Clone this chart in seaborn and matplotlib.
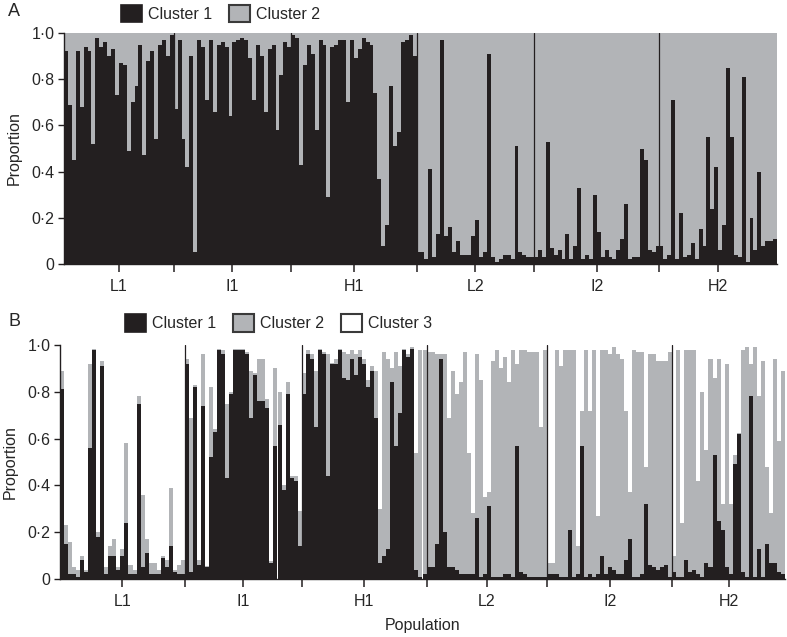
import numpy as np
import pandas as pd
import matplotlib
matplotlib.use("Agg")
import matplotlib.pyplot as plt
from matplotlib.patches import Patch
import seaborn as sns

# ---------------- data ----------------
POPS = ["L1", "I1", "H1", "L2", "I2", "H2"]

# Panel A (K = 2): proportion of Cluster 1 per individual (Cluster 2 = rest)
A_L1 = [0.92, 0.69, 0.45, 0.92, 0.68, 0.94, 0.92, 0.52, 0.98, 0.94, 0.96, 0.90, 0.93, 0.73,
        0.87, 0.86, 0.49, 0.70, 0.77, 0.95, 0.47, 0.88, 0.92, 0.54, 0.95, 0.97, 0.90, 0.99]
A_I1 = [0.67, 0.97, 0.54, 0.42, 0.90, 0.05, 0.97, 0.94, 0.71, 0.97, 0.66, 0.95, 0.96, 0.94, 0.64,
        0.96, 0.97, 0.98, 0.97, 0.89, 0.71, 0.95, 0.90, 0.66, 0.93, 0.95, 0.58, 0.82, 0.96, 0.94]
A_H1 = [0.99, 0.98, 0.43, 0.86, 0.95, 0.91, 0.58, 0.97, 0.95, 0.29, 0.94, 0.95, 0.97, 0.97, 0.70, 0.97,
        0.89, 0.93, 0.98, 0.96, 0.95, 0.74, 0.37, 0.08, 0.17, 0.77, 0.51, 0.57, 0.96, 0.97, 0.99, 0.90]
A_L2 = [0.05, 0.05, 0.02, 0.41, 0.03, 0.13, 0.97, 0.12, 0.16, 0.05, 0.10, 0.04, 0.04, 0.04, 0.12,
        0.19, 0.03, 0.05, 0.91, 0.03, 0.01, 0.02, 0.04, 0.04, 0.02, 0.51, 0.05, 0.04, 0.03, 0.03]
A_I2 = [0.03, 0.06, 0.03, 0.53, 0.07, 0.04, 0.06, 0.02, 0.13, 0.02, 0.08, 0.33, 0.02, 0.04, 0.02, 0.30,
        0.14, 0.03, 0.06, 0.03, 0.02, 0.06, 0.11, 0.26, 0.02, 0.03, 0.03, 0.50, 0.45, 0.06, 0.05, 0.08]
A_H2 = [0.08, 0.02, 0.04, 0.71, 0.02, 0.22, 0.03, 0.04, 0.09, 0.02, 0.15, 0.08, 0.55, 0.24, 0.42,
        0.06, 0.17, 0.85, 0.55, 0.04, 0.03, 0.81, 0.01, 0.20, 0.06, 0.40, 0.08, 0.10, 0.10, 0.11]

# Panel B (K = 3): proportions of Cluster 1 and Cluster 2 (Cluster 3 = rest)
B1_L1 = [0.81, 0.15, 0.02, 0.02, 0.01, 0.08, 0.03, 0.56, 0.98, 0.18, 0.91, 0.02, 0.10, 0.10, 0.04, 0.10,
         0.24, 0.02, 0.02, 0.75, 0.05, 0.11, 0.02, 0.02, 0.02, 0.09, 0.05, 0.14, 0.03, 0.02, 0.02]
B2_L1 = [0.08, 0.08, 0.14, 0.03, 0.03, 0.02, 0.01, 0.36, 0.005, 0.02, 0.02, 0.03, 0.04, 0.07, 0.01, 0.03,
         0.34, 0.04, 0.02, 0.03, 0.31, 0.06, 0.05, 0.05, 0.02, 0.01, 0.03, 0.25, 0.01, 0.04, 0.06]
B1_I1 = [0.92, 0.03, 0.82, 0.06, 0.74, 0.05, 0.52, 0.63, 0.98, 0.96, 0.43, 0.79, 0.98, 0.98, 0.98,
         0.96, 0.69, 0.87, 0.76, 0.76, 0.73, 0.07, 0.57, 0.66, 0.38, 0.79, 0.43, 0.42, 0.14]
B2_I1 = [0.02, 0.66, 0.01, 0.02, 0.22, 0.005, 0.30, 0.01, 0.005, 0.02, 0.32, 0.01, 0.005, 0.005, 0.005,
         0.01, 0.20, 0.01, 0.18, 0.18, 0.04, 0.005, 0.33, 0.14, 0.02, 0.05, 0.01, 0.02, 0.15]
B1_H1 = [0.79, 0.96, 0.94, 0.65, 0.98, 0.96, 0.44, 0.92, 0.92, 0.98, 0.86, 0.85, 0.94, 0.87, 0.95, 0.92,
         0.82, 0.89, 0.69, 0.07, 0.10, 0.13, 0.84, 0.57, 0.71, 0.98, 0.95, 0.985, 0.04, 0.01, 0.02]
B2_H1 = [0.09, 0.02, 0.02, 0.24, 0.005, 0.01, 0.52, 0.005, 0.02, 0.005, 0.11, 0.11, 0.04, 0.09, 0.03, 0.02,
         0.03, 0.02, 0.20, 0.23, 0.87, 0.81, 0.06, 0.40, 0.20, 0.005, 0.01, 0.005, 0.50, 0.97, 0.96]
B1_L2 = [0.05, 0.05, 0.15, 0.94, 0.20, 0.05, 0.05, 0.04, 0.02, 0.02, 0.02, 0.02, 0.26, 0.01, 0.02,
         0.31, 0.01, 0.01, 0.01, 0.02, 0.02, 0.01, 0.57, 0.03, 0.02, 0.01, 0.01, 0.01, 0.01, 0.01]
B2_L2 = [0.92, 0.92, 0.81, 0.02, 0.76, 0.64, 0.84, 0.75, 0.82, 0.95, 0.52, 0.26, 0.70, 0.84, 0.33,
         0.06, 0.92, 0.97, 0.89, 0.93, 0.82, 0.97, 0.35, 0.95, 0.96, 0.96, 0.96, 0.96, 0.64, 0.97]
B1_I2 = [0.02, 0.02, 0.02, 0.01, 0.01, 0.21, 0.01, 0.02, 0.57, 0.01, 0.02, 0.01, 0.02, 0.10, 0.02, 0.05,
         0.04, 0.02, 0.02, 0.08, 0.17, 0.01, 0.01, 0.02, 0.32, 0.06, 0.05, 0.04, 0.05, 0.06, 0.01]
B2_I2 = [0.05, 0.05, 0.96, 0.90, 0.97, 0.77, 0.97, 0.12, 0.15, 0.97, 0.70, 0.97, 0.25, 0.88, 0.96, 0.91,
         0.95, 0.94, 0.92, 0.64, 0.20, 0.97, 0.96, 0.95, 0.16, 0.90, 0.91, 0.89, 0.88, 0.87, 0.96]
B1_H2 = [0.03, 0.01, 0.01, 0.08, 0.03, 0.04, 0.02, 0.01, 0.07, 0.05, 0.53, 0.25, 0.21, 0.05,
         0.02, 0.49, 0.62, 0.03, 0.01, 0.78, 0.01, 0.13, 0.01, 0.15, 0.07, 0.07, 0.03, 0.02]
B2_H2 = [0.07, 0.97, 0.23, 0.90, 0.95, 0.94, 0.40, 0.79, 0.48, 0.89, 0.33, 0.69, 0.11, 0.87,
         0.30, 0.04, 0.005, 0.95, 0.98, 0.14, 0.98, 0.65, 0.92, 0.33, 0.21, 0.87, 0.56, 0.87]

A_c1 = [A_L1, A_I1, A_H1, A_L2, A_I2, A_H2]
B_c1 = [B1_L1, B1_I1, B1_H1, B1_L2, B1_I2, B1_H2]
B_c2 = [B2_L1, B2_I1, B2_H1, B2_L2, B2_I2, B2_H2]

# ---------------- style ----------------
sns.set_style("ticks")
plt.rcParams["font.family"] = ["Liberation Sans", "DejaVu Sans"]
plt.rcParams["axes.linewidth"] = 1.0

BLACK = "#231f20"
GRAY = "#b2b4b7"
FS = 11.5


def make_frame(c1_lists, c2_lists=None):
    rows = []
    i = 0
    for p, pop in enumerate(POPS):
        for j, v in enumerate(c1_lists[p]):
            c2 = (1.0 - v) if c2_lists is None else c2_lists[p][j]
            rows.append({"idx": i, "pop": pop, "c1": v, "c2": c2, "top": v + c2})
            i += 1
    return pd.DataFrame(rows)


def draw(ax, df, sizes):
    n = len(df)
    sns.barplot(data=df, x="idx", y="top", color=GRAY, width=1, native_scale=True,
                errorbar=None, saturation=1, linewidth=0, ax=ax)
    sns.barplot(data=df, x="idx", y="c1", color=BLACK, width=1, native_scale=True,
                errorbar=None, saturation=1, linewidth=0, ax=ax)
    for p in ax.patches:
        p.set_antialiased(False)
    starts = np.concatenate([[0], np.cumsum(sizes)])
    bounds = [s - 0.5 for s in starts[1:-1]]
    for b in bounds:
        ax.axvline(b, color=BLACK, lw=0.9, zorder=5)
    centers = [starts[k] + (sizes[k] - 1) / 2 for k in range(len(sizes))]
    ticks = sorted(bounds + centers)
    labels = [POPS[centers.index(t)] if t in centers else "" for t in ticks]
    ax.set_xticks(ticks)
    ax.set_xticklabels(labels, fontsize=FS)
    ax.set_xlim(-0.5, n - 0.5)
    ax.set_ylim(0, 1)
    ax.set_yticks([0, 0.2, 0.4, 0.6, 0.8, 1.0])
    ax.set_yticklabels(["0", "0·2", "0·4", "0·6", "0·8", "1·0"], fontsize=FS)
    ax.set_ylabel("Proportion", fontsize=FS, labelpad=7)
    ax.set_xlabel("")
    ax.tick_params(axis="x", length=6, width=1.1, pad=5, color=BLACK)
    ax.tick_params(axis="y", length=4, width=1.0, pad=3, color=BLACK)
    for s in ["top", "right"]:
        ax.spines[s].set_visible(False)
    for s in ["left", "bottom"]:
        ax.spines[s].set_color(BLACK)


fig = plt.figure(figsize=(7.87, 6.37), dpi=100)
W, H = 787.0, 637.0
axA = fig.add_axes([64 / W, 1 - 264 / H, 713 / W, 231 / H])
axB = fig.add_axes([60 / W, 1 - 579 / H, 725 / W, 234 / H])

dfA = make_frame(A_c1)
dfB = make_frame(B_c1, B_c2)
draw(axA, dfA, [len(x) for x in A_c1])
draw(axB, dfB, [len(x) for x in B_c1])
axB.set_xlabel("Population", fontsize=FS, labelpad=6)

fig.text(8 / W, 1 - 12 / H, "A", fontsize=13, va="center", ha="left")
fig.text(8 / W, 1 - 322 / H, "B", fontsize=13, va="center", ha="left")

hA = [Patch(facecolor=BLACK, edgecolor=BLACK, lw=1.2),
      Patch(facecolor=GRAY, edgecolor="#3a3a3a", lw=1.5)]
fig.legend(hA, ["Cluster 1", "Cluster 2"], loc="center left",
           bbox_to_anchor=(121 / W, 1 - 13.5 / H), ncol=2, frameon=False, fontsize=FS,
           handlelength=1.3, handleheight=1.3, handletextpad=0.4, columnspacing=1.05,
           borderpad=0, borderaxespad=0)
hB = [Patch(facecolor=BLACK, edgecolor=BLACK, lw=1.2),
      Patch(facecolor=GRAY, edgecolor="#3a3a3a", lw=1.5),
      Patch(facecolor="white", edgecolor="#3a3a3a", lw=1.5)]
fig.legend(hB, ["Cluster 1", "Cluster 2", "Cluster 3"], loc="center left",
           bbox_to_anchor=(125 / W, 1 - 323 / H), ncol=3, frameon=False, fontsize=FS,
           handlelength=1.3, handleheight=1.3, handletextpad=0.4, columnspacing=1.05,
           borderpad=0, borderaxespad=0)

fig.savefig("out.png", dpi=100)
